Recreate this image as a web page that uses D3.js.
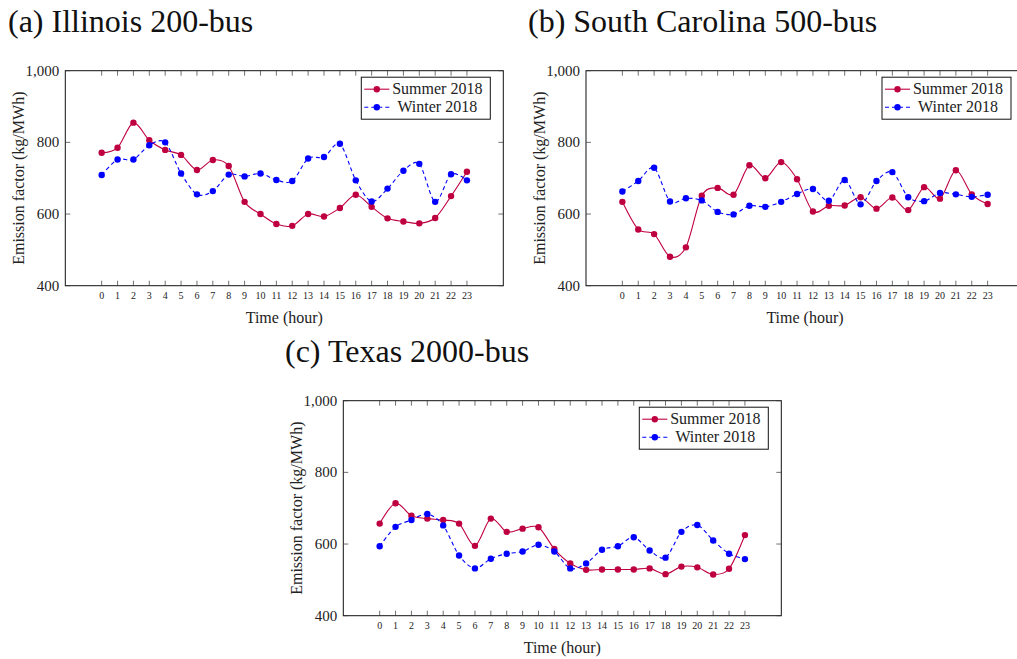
<!DOCTYPE html>
<html>
<head>
<meta charset="utf-8">
<script src="https://cdn.jsdelivr.net/npm/d3@7"></script>
<style>
  body { margin: 0; background: #fff; }
  svg text { font-family: "Liberation Serif", "DejaVu Serif", serif; }
</style>
</head>
<body>
<div id="chart"></div>
<script>
// hours 0..23
const hours = d3.range(0, 24);
const yTicks = [400, 600, 800, 1000];
const seriesNames = ["Summer 2018", "Winter 2018"];

// (a) Illinois 200-bus
const summerIL = [771, 785, 855, 806, 779, 765, 723, 751, 734, 634, 600, 572, 567, 600, 593, 617, 654, 620, 588, 579, 574, 589, 650, 718];
const winterIL = [709, 752, 752, 792, 800, 713, 655, 664, 710, 705, 713, 695, 692, 755, 759, 796, 694, 635, 671, 721, 740, 634, 711, 694];

// (b) South Carolina 500-bus
const summerSC = [634, 557, 544, 481, 507, 651, 673, 654, 736, 700, 745, 697, 607, 623, 624, 647, 615, 646, 611, 675, 643, 722, 655, 628];
const winterSC = [663, 692, 729, 635, 644, 638, 606, 599, 623, 620, 634, 656, 670, 637, 695, 627, 692, 717, 647, 636, 659, 655, 648, 654];

// (c) Texas 2000-bus
const summerTX = [657, 714, 679, 671, 667, 657, 595, 671, 634, 643, 647, 586, 546, 528, 529, 529, 529, 532, 516, 537, 535, 515, 531, 625];
const winterTX = [594, 648, 667, 684, 652, 568, 532, 559, 573, 579, 598, 579, 532, 546, 584, 594, 619, 582, 562, 634, 653, 610, 573, 558];

const colors = ["#bf0040", "#0000ff"];
const serif = "'Liberation Serif', 'DejaVu Serif', serif";

const svg = d3.select("#chart")
    .append("svg")
    .attr("width", 1017)
    .attr("height", 659)
    .attr("font-family", serif);

const panels = [
    { title: "(a) Illinois 200-bus", tx: 8, ty: 32, left: 65.3, top: 70.7, data: [summerIL, winterIL] },
    { title: "(b) South Carolina 500-bus", tx: 528, ty: 32, left: 586, top: 70.7, data: [summerSC, winterSC] },
    { title: "(c) Texas 2000-bus", tx: 285, ty: 362, left: 343.3, top: 400.7, data: [summerTX, winterTX] }
];

const W = 438, H = 215;

panels.forEach(p => {
    // title
    svg.append("text")
        .attr("x", p.tx)
        .attr("y", p.ty)
        .attr("font-family", serif)
        .attr("font-size", "32px")
        .attr("fill", "#111")
        .text(p.title);

    const g = svg.append("g").attr("transform", `translate(${p.left},${p.top})`);

    const x = d3.scaleLinear().domain([-2.29, 25.29]).range([0, W]);
    const y = d3.scaleLinear().domain([400, 1000]).range([H, 0]);

    // frame
    g.append("rect")
        .attr("width", W)
        .attr("height", H)
        .attr("fill", "none")
        .attr("stroke", "#111")
        .attr("stroke-width", 1);

    // x ticks, bottom and top, pointing inwards
    hours.forEach(h => {
        g.append("line")
            .attr("x1", x(h)).attr("x2", x(h))
            .attr("y1", H).attr("y2", H - 5)
            .attr("stroke", "#333").attr("stroke-width", 0.7);
        g.append("line")
            .attr("x1", x(h)).attr("x2", x(h))
            .attr("y1", 0).attr("y2", 5)
            .attr("stroke", "#333").attr("stroke-width", 0.7);
        g.append("text")
            .attr("x", x(h))
            .attr("y", H + 13)
            .attr("text-anchor", "middle")
            .attr("font-family", serif)
            .attr("font-size", "10px")
            .attr("fill", "#222")
            .text(h);
    });

    // y ticks, left and right
    yTicks.forEach(v => {
        g.append("line")
            .attr("x1", 0).attr("x2", 5)
            .attr("y1", y(v)).attr("y2", y(v))
            .attr("stroke", "#333").attr("stroke-width", 0.7);
        g.append("line")
            .attr("x1", W).attr("x2", W - 5)
            .attr("y1", y(v)).attr("y2", y(v))
            .attr("stroke", "#333").attr("stroke-width", 0.7);
        g.append("text")
            .attr("x", -6)
            .attr("y", y(v) + 5)
            .attr("text-anchor", "end")
            .attr("font-family", serif)
            .attr("font-size", "15px")
            .attr("fill", "#222")
            .text(d3.format(",")(v));
    });

    // axis labels
    g.append("text")
        .attr("x", W / 2)
        .attr("y", H + 37)
        .attr("text-anchor", "middle")
        .attr("font-family", serif)
        .attr("font-size", "16px")
        .attr("fill", "#222")
        .text("Time (hour)");

    g.append("text")
        .attr("transform", `translate(${-41},${H / 2}) rotate(-90)`)
        .attr("text-anchor", "middle")
        .attr("font-family", serif)
        .attr("font-size", "16px")
        .attr("fill", "#222")
        .text("Emission factor (kg/MWh)");

    // series
    const line = d3.line()
        .x((d, i) => x(hours[i]))
        .y(d => y(d))
        .curve(d3.curveCardinal.tension(0.1));

    p.data.forEach((vals, k) => {
        g.append("path")
            .datum(vals)
            .attr("d", line)
            .attr("fill", "none")
            .attr("stroke", colors[k])
            .attr("stroke-width", 1.1)
            .attr("stroke-dasharray", k === 1 ? "4,3" : null);

        g.selectAll(null)
            .data(vals)
            .enter()
            .append("circle")
            .attr("cx", (d, i) => x(hours[i]))
            .attr("cy", d => y(d))
            .attr("r", 3.2)
            .attr("fill", colors[k]);
    });

    // legend, anchored north east at (0.97, 0.97)
    const lw = 129, lh = 42;
    const lg = g.append("g").attr("transform", `translate(${W - 13 - lw},${6.5})`);
    lg.append("rect")
        .attr("width", lw)
        .attr("height", lh)
        .attr("fill", "#fff")
        .attr("stroke", "#111")
        .attr("stroke-width", 1);

    seriesNames.forEach((name, k) => {
        const ry = 12 + k * 18;
        lg.append("line")
            .attr("x1", 3).attr("x2", 28)
            .attr("y1", ry).attr("y2", ry)
            .attr("stroke", colors[k])
            .attr("stroke-width", 1.1)
            .attr("stroke-dasharray", k === 1 ? "4,3" : null);
        lg.append("circle")
            .attr("cx", 15.5)
            .attr("cy", ry)
            .attr("r", 3.2)
            .attr("fill", colors[k]);
        lg.append("text")
            .attr("x", 76)
            .attr("y", ry + 5)
            .attr("text-anchor", "middle")
            .attr("font-family", serif)
            .attr("font-size", "16px")
            .attr("fill", "#222")
            .text(name);
    });
});
</script>
</body>
</html>
